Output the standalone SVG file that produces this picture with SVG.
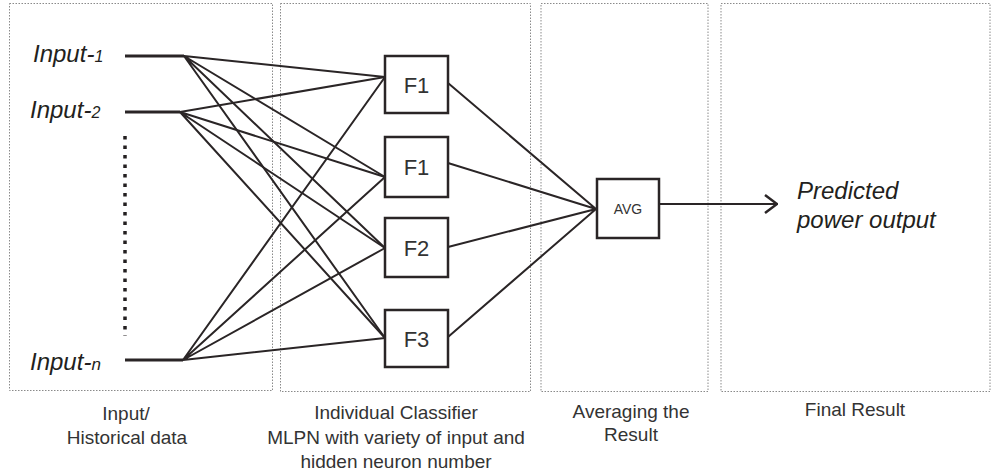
<svg xmlns="http://www.w3.org/2000/svg" width="992" height="472" viewBox="0 0 992 472">
<defs>
<style>
.panel{fill:none;stroke:#8a8a8a;stroke-width:1;stroke-dasharray:1.5 1.5}
.box{fill:#fff;stroke:#2a2526;stroke-width:2.5}
.con{fill:none;stroke:#2a2526;stroke-width:2;stroke-linecap:round}
.inl{fill:none;stroke:#2a2526;stroke-width:3}
.lbl{font-family:"Liberation Sans",Arial,sans-serif;font-size:19px;fill:#333;text-anchor:middle}
.ital{font-family:"Liberation Sans",Arial,sans-serif;font-style:italic;font-size:24px;fill:#231f20}
.fx{font-family:"Liberation Sans",Arial,sans-serif;font-size:22px;fill:#333;text-anchor:middle}
</style>
<marker id="arr" viewBox="0 0 14 20" refX="13" refY="10" markerWidth="14" markerHeight="20" markerUnits="userSpaceOnUse" orient="auto">
<polyline points="1,1 13,10 1,19" fill="none" stroke="#2a2526" stroke-width="2.5"/>
</marker>
</defs>
<rect width="992" height="472" fill="#fff"/>
<g id="panels">
<rect class="panel" x="9.5" y="3.5" width="263" height="387"/>
<rect class="panel" x="280.5" y="3.5" width="250" height="388"/>
<rect class="panel" x="541" y="3.5" width="167" height="388"/>
<rect class="panel" x="721" y="3.5" width="269" height="388"/>
</g>
<g id="connectors">
<line class="inl" x1="125" y1="56" x2="184" y2="56"/>
<line class="inl" x1="125" y1="112" x2="180" y2="112"/>
<line class="inl" x1="125" y1="360" x2="183" y2="360"/>
<line x1="125" y1="136" x2="125" y2="336" stroke="#231f20" stroke-width="3.5" stroke-dasharray="3.5 6"/>
<path class="con" d="M184,56 L385,77 M184,56 L385,177 M184,56 L385,248 M184,56 L385,338"/>
<path class="con" d="M180,112 L385,77 M180,112 L385,177 M180,112 L385,248 M180,112 L385,338"/>
<path class="con" d="M183,360 L385,77 M183,360 L385,177 M183,360 L385,248 M183,360 L385,338"/>
<path class="con" d="M448,83 L596,209 M448,163 L596,209 M448,247 L596,209 M448,337 L596,209"/>
<line class="con" x1="659" y1="204" x2="777" y2="204" marker-end="url(#arr)"/>
</g>
<g id="input1"><text class="ital" x="33" y="62">Input-<tspan font-size="16">1</tspan></text></g>
<g id="input2"><text class="ital" x="30" y="118">Input-<tspan font-size="16">2</tspan></text></g>
<g id="inputn"><text class="ital" x="30" y="370">Input-<tspan font-size="17">n</tspan></text></g>
<g id="f1a"><rect class="box" x="385" y="56" width="63" height="57"/><text class="fx" x="416.5" y="93">F1</text></g>
<g id="f1b"><rect class="box" x="385" y="137" width="63" height="60"/><text class="fx" x="416.5" y="175">F1</text></g>
<g id="f2"><rect class="box" x="385" y="218" width="63" height="59"/><text class="fx" x="416.5" y="255.5">F2</text></g>
<g id="f3"><rect class="box" x="385" y="310" width="63" height="57"/><text class="fx" x="416.5" y="346.5">F3</text></g>
<g id="avg"><rect class="box" x="597" y="179" width="62" height="59"/><text x="628" y="214" font-family="Liberation Sans,Arial,sans-serif" font-size="14" fill="#333" text-anchor="middle">AVG</text></g>
<g id="output"><text class="ital" x="797" y="199">Predicted</text><text class="ital" x="797" y="228">power output</text></g>
<g id="labels">
<text class="lbl" x="126" y="420">Input/</text>
<text class="lbl" x="127" y="444">Historical data</text>
<text class="lbl" x="396" y="419">Individual Classifier</text>
<text class="lbl" x="396" y="444">MLPN with variety of input and</text>
<text class="lbl" x="396" y="468">hidden neuron number</text>
<text class="lbl" x="631" y="418">Averaging the</text>
<text class="lbl" x="631" y="441">Result</text>
<text class="lbl" x="855" y="416">Final Result</text>
</g>
</svg>
